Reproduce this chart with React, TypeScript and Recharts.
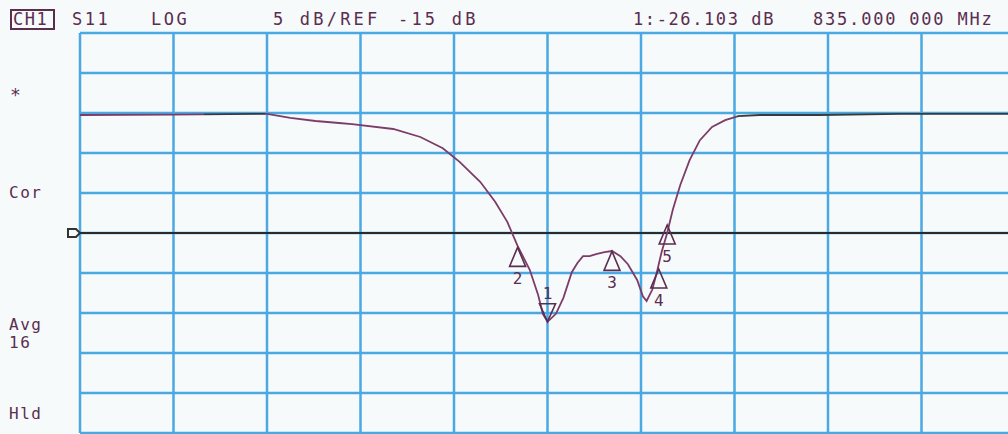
import React from "react";
import {
  ComposedChart,
  Line,
  XAxis,
  YAxis,
  CartesianGrid,
  ReferenceLine,
  ReferenceDot,
} from "recharts";

// frequency (MHz) and S11 log magnitude (dB)
const freqs = [
  785, 795, 805, 807.5, 810.2, 812.7, 814.1, 818.5, 821.4, 823.8, 825.6, 827.8,
  829.4, 830.7, 831.8, 833.1, 834.0, 834.5, 835, 835.9, 836.7, 837.6, 838.2,
  838.8, 839.5, 840.3, 841.1, 841.9, 842.8, 843.6, 844.6, 845.2, 845.6, 846.2,
  846.7, 847.2, 847.8, 848.4, 849.2, 850.2, 851.3, 852.6, 854.0, 855.4, 857.7,
  864.1, 872.7, 885,
];
const s11 = [
  -0.25, -0.2, -0.1, -0.6, -1.0, -1.25, -1.4, -2.0, -3.0, -4.4, -6.1, -8.6,
  -11.1, -13.6, -16.6, -19.6, -22.75, -25.1, -26.1, -25.1, -23.1, -19.9, -18.75,
  -17.9, -17.9, -17.6, -17.4, -17.25, -17.9, -18.9, -20.9, -22.9, -23.5, -22.1,
  -19.9, -17.4, -15.0, -12.1, -9.0, -5.9, -3.4, -1.75, -0.9, -0.4, -0.25, -0.25,
  -0.1, -0.1,
];

const markerIds = ["1", "2", "3", "4", "5"];
const markerFreqs = [835, 831.8, 841.9, 846.9, 847.8];
const markerDb = [-26.1, -16.8, -17.3, -19.5, -14.0];

const freqTicks = [785, 795, 805, 815, 825, 835, 845, 855, 865, 875, 885];
const dbTicks = [10, 5, 0, -5, -10, -15, -20, -25, -30, -35, -40];
const refLevel = -15;

const data = freqs.map((f, i) => ({ f, db: s11[i] }));

const ink = "#5b2d4f";
const traceColor = "#7d3c68";
const mono = "'DejaVu Sans Mono', 'Liberation Mono', monospace";

const MarkerShape = (props: any) => {
  const { cx, cy, id } = props;
  if (cx == null || cy == null) return null;
  if (id === "1") {
    return (
      <g>
        <path
          d={`M${cx - 8},${cy - 18} L${cx + 8},${cy - 18} L${cx},${cy} Z`}
          fill="none"
          stroke={ink}
          strokeWidth={1.6}
        />
        <text x={cx} y={cy - 23} textAnchor="middle" fill={ink} fontSize={16} fontFamily={mono}>
          1
        </text>
      </g>
    );
  }
  return (
    <g>
      <path
        d={`M${cx},${cy} L${cx + 8},${cy + 19} L${cx - 8},${cy + 19} Z`}
        fill="none"
        stroke={ink}
        strokeWidth={1.6}
      />
      <text x={cx} y={cy + 37} textAnchor="middle" fill={ink} fontSize={16} fontFamily={mono}>
        {id}
      </text>
    </g>
  );
};

const RefFlag = (props: any) => {
  const { viewBox } = props;
  if (!viewBox) return null;
  const x = viewBox.x;
  const y = viewBox.y;
  return (
    <path
      d={`M${x - 12},${y - 4} L${x - 4},${y - 4} L${x},${y} L${x - 4},${y + 4} L${x - 12},${y + 4} Z`}
      fill="none"
      stroke="#333"
      strokeWidth={2}
    />
  );
};

const txt = (left: number, top: number, s: string, ls = 2.5, size = 17) => (
  <div
    style={{
      position: "absolute",
      left,
      top,
      fontFamily: mono,
      fontSize: size,
      letterSpacing: ls,
      color: ink,
      whiteSpace: "pre",
      lineHeight: 1,
    }}
  >
    {s}
  </div>
);

export default function App() {
  return (
    <div
      style={{
        position: "fixed",
        left: 0,
        top: 0,
        width: 1008,
        height: 434,
        overflow: "hidden",
        background: "#f6fafb",
      }}
    >
      <ComposedChart
        width={1100}
        height={440}
        data={data}
        margin={{ top: 33, left: 80, right: 85, bottom: 7 }}
      >
        <defs>
          <linearGradient id="traceGrad" x1="0" y1="0" x2="1" y2="0">
            <stop offset="0" stopColor={traceColor} />
            <stop offset="0.133" stopColor={traceColor} />
            <stop offset="0.133" stopColor="#3b3540" />
            <stop offset="0.198" stopColor="#3b3540" />
            <stop offset="0.198" stopColor={traceColor} />
            <stop offset="0.703" stopColor={traceColor} />
            <stop offset="0.703" stopColor="#3a3a3a" />
            <stop offset="1" stopColor="#3a3a3a" />
          </linearGradient>
        </defs>
        <CartesianGrid stroke="#4aa9e3" strokeWidth={2.5} />
        <XAxis
          dataKey="f"
          type="number"
          domain={[785, 885]}
          ticks={freqTicks}
          hide
        />
        <YAxis type="number" domain={[-40, 10]} ticks={dbTicks} hide />
        <ReferenceLine
          y={refLevel}
          stroke="#2b2b2b"
          strokeWidth={2}
          label={<RefFlag />}
        />
        <Line
          dataKey="db"
          stroke="url(#traceGrad)"
          strokeWidth={1.8}
          dot={false}
          type="linear"
          isAnimationActive={false}
        />
        {markerIds.map((id, i) => (
          <ReferenceDot
            key={id}
            x={markerFreqs[i]}
            y={markerDb[i]}
            shape={(p: any) => <MarkerShape {...p} id={id} />}
          />
        ))}
      </ComposedChart>

      <div
        style={{
          position: "absolute",
          left: 10,
          top: 9,
          width: 41,
          height: 17,
          border: `2px solid ${ink}`,
        }}
      />
      {txt(13, 11, "CH1", 1.5)}
      {txt(72, 11, "S11", 2.5)}
      {txt(151, 11, "LOG", 2.5)}
      {txt(273, 11, "5 dB/REF", 3.2)}
      {txt(398, 11, "-15 dB", 3.2)}
      {txt(633, 11, "1:-26.103 dB", 1.6)}
      {txt(813, 11, "835.000 000 MHz", 1.8)}

      {txt(10, 86, "*", 0, 18)}
      {txt(9, 185, "Cor", 1.5, 16)}
      {txt(9, 317, "Avg", 1.5, 16)}
      {txt(9, 335, "16", 1.5, 16)}
      {txt(9, 406, "Hld", 1.5, 16)}
    </div>
  );
}
